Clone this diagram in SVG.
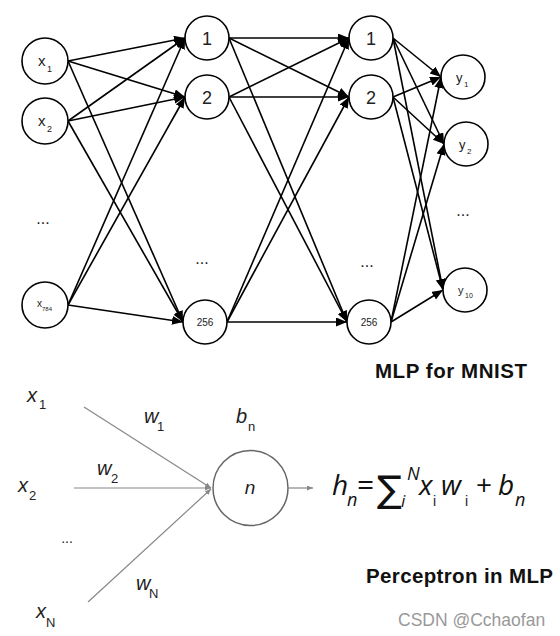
<svg xmlns="http://www.w3.org/2000/svg" width="560" height="636" viewBox="0 0 560 636">
<style>
.node{fill:#fff;stroke:#000;stroke-width:1.6}
.edge{stroke:#000;stroke-width:1.6;fill:none;marker-end:url(#ah)}
.lbl{font-family:"Liberation Sans",Arial,sans-serif;fill:#222}
.dots{font-family:"Liberation Sans",Arial,sans-serif;font-size:16px;fill:#222}
.pl{stroke:#888;stroke-width:1.2;fill:none}
.it{font-family:"Liberation Sans",Arial,sans-serif;font-style:italic;fill:#222}
.rg{font-family:"Liberation Sans",Arial,sans-serif;fill:#222}
.fo{font-family:"Open Sans","Liberation Sans",sans-serif;fill:#111}
.title{font-family:"Liberation Sans",Arial,sans-serif;font-weight:bold;font-size:20.5px;fill:#111}
</style>
<defs>
<marker id="ah" markerUnits="userSpaceOnUse" markerWidth="12" markerHeight="10" refX="11" refY="4.5" orient="auto">
<path d="M0,0 L11,4.5 L0,9 z" fill="#000"/>
</marker>
<marker id="sah" markerUnits="userSpaceOnUse" markerWidth="7" markerHeight="6" refX="6" refY="2.5" orient="auto">
<path d="M0,0 L6,2.5 L0,5 z" fill="#888"/>
</marker>
</defs>
<g id="connectors">
<line class="edge" x1="68" y1="61" x2="185" y2="38"/>
<line class="edge" x1="68" y1="61" x2="185" y2="97"/>
<line class="edge" x1="68" y1="61" x2="183" y2="322"/>
<line class="edge" x1="68" y1="121" x2="185" y2="38"/>
<line class="edge" x1="68" y1="121" x2="185" y2="97"/>
<line class="edge" x1="68" y1="121" x2="183" y2="322"/>
<line class="edge" x1="68" y1="305" x2="185" y2="38"/>
<line class="edge" x1="68" y1="305" x2="185" y2="97"/>
<line class="edge" x1="68" y1="305" x2="183" y2="322"/>
<line class="edge" x1="229" y1="38" x2="349" y2="38"/>
<line class="edge" x1="229" y1="38" x2="349" y2="97"/>
<line class="edge" x1="229" y1="38" x2="347" y2="322"/>
<line class="edge" x1="229" y1="97" x2="349" y2="38"/>
<line class="edge" x1="229" y1="97" x2="349" y2="97"/>
<line class="edge" x1="229" y1="97" x2="347" y2="322"/>
<line class="edge" x1="227" y1="322" x2="349" y2="38"/>
<line class="edge" x1="227" y1="322" x2="349" y2="97"/>
<line class="edge" x1="227" y1="322" x2="347" y2="322"/>
<line class="edge" x1="393" y1="38" x2="441" y2="77"/>
<line class="edge" x1="393" y1="38" x2="444" y2="144"/>
<line class="edge" x1="393" y1="38" x2="443" y2="290"/>
<line class="edge" x1="393" y1="97" x2="441" y2="77"/>
<line class="edge" x1="393" y1="97" x2="444" y2="144"/>
<line class="edge" x1="393" y1="97" x2="443" y2="290"/>
<line class="edge" x1="391" y1="322" x2="441" y2="77"/>
<line class="edge" x1="391" y1="322" x2="444" y2="144"/>
<line class="edge" x1="391" y1="322" x2="443" y2="290"/>
</g>
<g id="in-x1"><circle class="node" cx="45" cy="61" r="23"/><text class="lbl" x="38" y="66" font-size="15">x</text><text class="lbl" x="47" y="72" font-size="9">1</text></g>
<g id="in-x2"><circle class="node" cx="45" cy="121" r="23"/><text class="lbl" x="38" y="126" font-size="15">x</text><text class="lbl" x="47" y="132" font-size="9">2</text></g>
<g id="in-x784"><circle class="node" cx="45" cy="305" r="23"/><text class="lbl" x="37" y="307" font-size="10">x</text><text class="lbl" x="42" y="311" font-size="6">784</text></g>
<g id="h1-1"><circle class="node" cx="207" cy="38" r="22"/><text class="lbl" x="207" y="45" font-size="18" text-anchor="middle">1</text></g>
<g id="h1-2"><circle class="node" cx="207" cy="97" r="22"/><text class="lbl" x="207" y="104" font-size="18" text-anchor="middle">2</text></g>
<g id="h1-256"><circle class="node" cx="205" cy="322" r="22"/><text class="lbl" x="205" y="326" font-size="10" text-anchor="middle" fill="#444">256</text></g>
<g id="h2-1"><circle class="node" cx="371" cy="38" r="22"/><text class="lbl" x="371" y="45" font-size="18" text-anchor="middle">1</text></g>
<g id="h2-2"><circle class="node" cx="371" cy="97" r="22"/><text class="lbl" x="371" y="104" font-size="18" text-anchor="middle">2</text></g>
<g id="h2-256"><circle class="node" cx="369" cy="322" r="22"/><text class="lbl" x="369" y="326" font-size="10" text-anchor="middle" fill="#444">256</text></g>
<g id="out-y1"><circle class="node" cx="463" cy="77" r="22"/><text class="lbl" x="456" y="82" font-size="13">y</text><text class="lbl" x="464" y="87" font-size="8">1</text></g>
<g id="out-y2"><circle class="node" cx="466" cy="144" r="22"/><text class="lbl" x="459" y="149" font-size="13">y</text><text class="lbl" x="467" y="154" font-size="8">2</text></g>
<g id="out-y10"><circle class="node" cx="465" cy="290" r="22"/><text class="lbl" x="458" y="294" font-size="11">y</text><text class="lbl" x="465" y="298" font-size="7">10</text></g>
<text class="dots" x="43" y="224" text-anchor="middle">...</text>
<text class="dots" x="202" y="264" text-anchor="middle">...</text>
<text class="dots" x="367" y="267" text-anchor="middle">...</text>
<text class="dots" x="463" y="216" text-anchor="middle">...</text>
<text class="title" x="375" y="378" textLength="152">MLP for MNIST</text>
<g id="perceptron">
<line class="pl" x1="84" y1="407" x2="211" y2="488" marker-end="url(#sah)"/>
<line class="pl" x1="74" y1="488" x2="211" y2="488" marker-end="url(#sah)"/>
<line class="pl" x1="88" y1="602" x2="211" y2="489" marker-end="url(#sah)"/>
<circle cx="250.5" cy="488" r="37.5" fill="#fff" stroke="#666" stroke-width="1.5"/>
<text class="it" x="250" y="494" font-size="19" text-anchor="middle">n</text>
<line class="pl" x1="288" y1="488" x2="313" y2="488" marker-end="url(#sah)"/>
</g>
<text class="it" x="27" y="402" font-size="20">x</text><text class="rg" x="39" y="409" font-size="13">1</text>
<text class="it" x="144" y="423" font-size="20">w</text><text class="rg" x="157" y="431" font-size="13">1</text>
<text class="it" x="236" y="423" font-size="20">b</text><text class="rg" x="248" y="431" font-size="13">n</text>
<text class="it" x="97" y="475" font-size="20">w</text><text class="rg" x="111" y="483" font-size="13">2</text>
<text class="it" x="18" y="492" font-size="20">x</text><text class="rg" x="29" y="500" font-size="13">2</text>
<text class="rg" x="67" y="543" font-size="14" text-anchor="middle">...</text>
<text class="it" x="136" y="590" font-size="20">w</text><text class="rg" x="149" y="598" font-size="13">N</text>
<text class="it" x="36" y="618" font-size="20">x</text><text class="rg" x="46" y="627" font-size="13">N</text>
<g id="formula">
<text class="fo" x="332" y="495" font-size="28" font-style="italic">h</text>
<text class="fo" x="347" y="506" font-size="18" font-style="italic">n</text>
<text class="fo" x="357" y="495" font-size="30">=</text>
<text x="377" y="502" font-size="37" font-family="'DejaVu Sans',sans-serif" fill="#111">∑</text>
<text class="fo" x="401" y="507" font-size="17" font-style="italic">i</text>
<text class="fo" x="407" y="480" font-size="18" font-style="italic">N</text>
<text class="fo" x="419" y="495" font-size="28" font-style="italic">x</text>
<text class="rg" x="433" y="506" font-size="14" fill="#111">i</text>
<text class="fo" x="441" y="495" font-size="28" font-style="italic">w</text>
<text class="rg" x="465" y="506" font-size="14" fill="#111">i</text>
<text class="fo" x="476" y="495" font-size="28">+</text>
<text class="fo" x="498" y="495" font-size="28" font-style="italic">b</text>
<text class="fo" x="515" y="506" font-size="18" font-style="italic">n</text>
</g>
<text class="title" x="366" y="583" textLength="187">Perceptron in MLP</text>
<text x="398" y="626" font-family="'Liberation Sans',Arial,sans-serif" font-size="17.5" fill="#999">CSDN @Cchaofan</text>
</svg>
